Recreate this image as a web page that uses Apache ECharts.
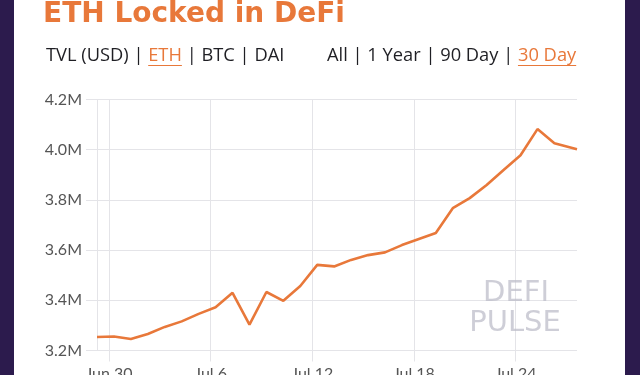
<!DOCTYPE html>
<html>
<head>
<meta charset="utf-8">
<style>
  html, body { margin: 0; padding: 0; background: #ffffff; }
  #chart { width: 640px; height: 375px; }
</style>
<script src="https://cdn.jsdelivr.net/npm/echarts@6/dist/echarts.min.js"></script>
</head>
<body>
<div id="chart"></div>
<script>
// ---- data ----
const dates = [
  '2020-06-29T07:00:00Z', '2020-06-30T07:00:00Z', '2020-07-01T07:00:00Z', '2020-07-02T07:00:00Z',
  '2020-07-03T07:00:00Z', '2020-07-04T07:00:00Z', '2020-07-05T07:00:00Z', '2020-07-06T07:00:00Z',
  '2020-07-07T07:00:00Z', '2020-07-08T07:00:00Z', '2020-07-09T07:00:00Z', '2020-07-10T07:00:00Z',
  '2020-07-11T07:00:00Z', '2020-07-12T07:00:00Z', '2020-07-13T07:00:00Z', '2020-07-14T07:00:00Z',
  '2020-07-15T07:00:00Z', '2020-07-16T07:00:00Z', '2020-07-17T07:00:00Z', '2020-07-18T07:00:00Z',
  '2020-07-19T07:00:00Z', '2020-07-20T07:00:00Z', '2020-07-21T07:00:00Z', '2020-07-22T07:00:00Z',
  '2020-07-23T07:00:00Z', '2020-07-24T07:00:00Z', '2020-07-25T07:00:00Z', '2020-07-26T07:00:00Z',
  '2020-07-27T15:00:00Z'
];
const ethLocked = [
  3254000, 3256000, 3246000, 3266000, 3294000, 3316000, 3346000, 3372000,
  3430000, 3303000, 3433000, 3398000, 3457000, 3541000, 3535000, 3561000,
  3580000, 3591000, 3620000, 3644000, 3668000, 3767000, 3807000, 3859000,
  3919000, 3978000, 4082000, 4026000, 4002000
];
const xTickDates = ['2020-06-30T00:00:00Z', '2020-07-06T00:00:00Z', '2020-07-12T00:00:00Z', '2020-07-18T00:00:00Z', '2020-07-24T00:00:00Z'];
const xTickLabels = ['Jun 30', 'Jul 6', 'Jul 12', 'Jul 18', 'Jul 24'];
const yMin = 3200000, yMax = 4200000, yStep = 200000;

const titleText = 'ETH Locked in DeFi';
const metricLinks = ['TVL (USD)', 'ETH', 'BTC', 'DAI'];
const rangeLinks = ['All', '1 Year', '90 Day', '30 Day'];
const activeMetric = 'ETH', activeRange = '30 Day';

// ---- build ----
const ORANGE = '#E8783A';
const GRID = '#e4e4e8';
const FONT = 'Lato';
const LINK_FONT = '"Open Sans"';
const LINK_SIZE = 18.3;
const SEP = ' | ';

const xs = dates.map(d => Date.parse(d));
const tickVals = xTickDates.map(d => Date.parse(d));
const seriesData = xs.map((x, i) => [x, ethLocked[i]]);

const measureCtx = document.createElement('canvas').getContext('2d');
measureCtx.font = LINK_SIZE + 'px ' + LINK_FONT;
function w(t) { return measureCtx.measureText(t).width; }

function richLinks(items, active) {
  return items.map(t => (t === active ? '{a|' + t + '}' : '{n|' + t + '}')).join('{n|' + SEP + '}');
}
function underlineFor(items, active, left, y) {
  let x = left;
  for (let i = 0; i < items.length; i++) {
    if (items[i] === active) {
      return { type: 'line', shape: { x1: x, y1: y, x2: x + w(items[i]), y2: y }, style: { stroke: ORANGE, lineWidth: 1 } };
    }
    x += w(items[i]) + w(SEP);
  }
}
const linkRich = {
  n: { fill: '#1f1f24', fontSize: LINK_SIZE, fontFamily: LINK_FONT },
  a: { fill: ORANGE, fontSize: LINK_SIZE, fontFamily: LINK_FONT }
};

const chart = echarts.init(document.getElementById('chart'), null, { renderer: 'canvas' });
chart.setOption({
  animation: false,
  backgroundColor: '#ffffff',
  grid: { left: 97, right: 63, top: 99.5, bottom: 24.5, containLabel: false, outerBoundsMode: 'none' },
  xAxis: {
    type: 'value',
    min: xs[0],
    max: xs[xs.length - 1],
    axisLine: { show: false },
    axisTick: { show: true, length: 11, customValues: tickVals, lineStyle: { color: GRID } },
    splitLine: { show: true, lineStyle: { color: GRID, width: 1 } },
    axisLabel: {
      customValues: tickVals,
      margin: 15,
      color: '#555',
      fontSize: 16,
      fontFamily: FONT,
      formatter: v => {
        const i = tickVals.indexOf(v);
        return i >= 0 ? xTickLabels[i] : '';
      }
    }
  },
  yAxis: {
    type: 'value',
    min: yMin,
    max: yMax,
    interval: yStep,
    axisLine: { show: true, lineStyle: { color: GRID } },
    axisTick: { show: true, length: 11, lineStyle: { color: GRID } },
    splitLine: { show: true, lineStyle: { color: GRID } },
    axisLabel: {
      margin: 15,
      color: '#555',
      fontSize: 16,
      fontFamily: FONT,
      formatter: v => (v / 1e6).toFixed(1) + 'M'
    }
  },
  series: [{
    type: 'line',
    data: seriesData,
    showSymbol: false,
    symbol: 'none',
    smooth: false,
    lineStyle: { color: ORANGE, width: 2.6 },
    z: 5
  }],
  graphic: [
    { type: 'rect', left: 0, top: 0, shape: { width: 14, height: 375 }, style: { fill: '#2c1b4d' }, silent: true, z: 100 },
    { type: 'rect', left: 625, top: 0, shape: { width: 15, height: 375 }, style: { fill: '#2c1b4d' }, silent: true, z: 100 },
    {
      type: 'text', x: 43, y: 15,
      style: { text: titleText, fill: ORANGE, font: 'bold 28px "DejaVu Sans"', verticalAlign: 'middle' }
    },
    {
      type: 'text', x: 46, y: 56,
      style: { text: richLinks(metricLinks, activeMetric), rich: linkRich, fontSize: LINK_SIZE, fontFamily: LINK_FONT, verticalAlign: 'middle' }
    },
    {
      type: 'text', x: 327, y: 56,
      style: { text: richLinks(rangeLinks, activeRange), rich: linkRich, fontSize: LINK_SIZE, fontFamily: LINK_FONT, verticalAlign: 'middle' }
    },
    underlineFor(metricLinks, activeMetric, 46, 65.5),
    underlineFor(rangeLinks, activeRange, 327, 65.5),
    {
      type: 'text', x: 516, y: 293, z: 1,
      style: { text: 'DEFI', fill: 'rgba(190,190,202,0.75)', font: '500 29px "DejaVu Sans"', align: 'center', verticalAlign: 'middle' }
    },
    {
      type: 'text', x: 515, y: 323, z: 1,
      style: { text: 'PULSE', fill: 'rgba(190,190,202,0.75)', font: '500 29px "DejaVu Sans"', align: 'center', verticalAlign: 'middle' }
    }
  ]
});
</script>
</body>
</html>
